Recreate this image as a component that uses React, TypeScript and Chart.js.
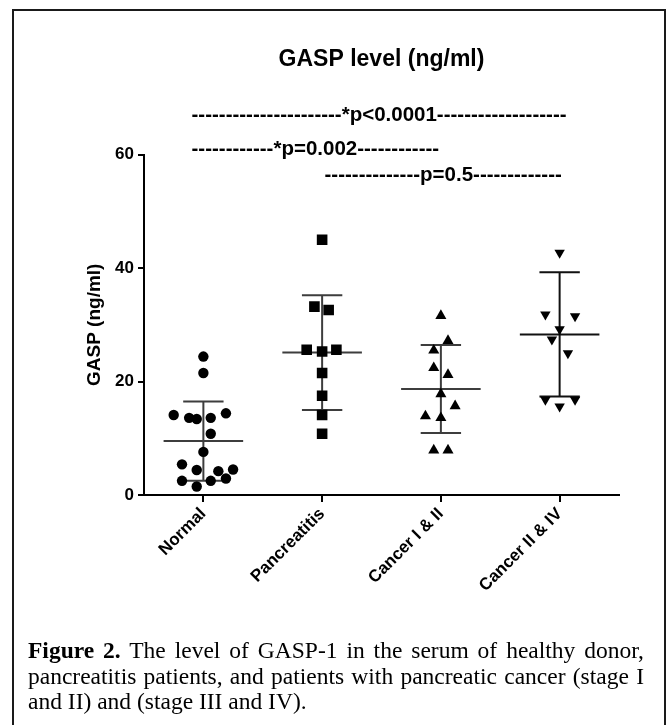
import React, { useEffect, useRef } from "react";
import { Chart, registerables } from "chart.js";

Chart.register(...registerables);

// ---- data ----
const categories = ["Normal", "Pancreatitis", "Cancer I & II", "Cancer II & IV"];

const normalValues = [24.4, 21.5, 14.1, 13.6, 13.4, 13.6, 14.4, 10.8, 7.6, 5.4, 4.4, 4.2, 4.5, 2.5, 2.5, 2.9, 1.5];
const normalJitter = [0, 0, -0.25, -0.12, -0.056, 0.062, 0.19, 0.062, 0, -0.18, -0.056, 0.126, 0.25, -0.18, 0.062, 0.19, -0.056];

const pancreatitisValues = [45.0, 33.2, 32.6, 25.6, 25.3, 25.6, 21.5, 17.5, 14.1, 10.8];
const pancreatitisJitter = [0, -0.065, 0.055, -0.13, 0, 0.12, 0, 0, 0, 0];

const cancer12Values = [31.6, 27.2, 25.5, 22.4, 21.2, 17.8, 15.7, 13.9, 13.6, 7.9, 7.9];
const cancer12Jitter = [0, 0.06, -0.06, -0.06, 0.06, 0, 0.12, -0.13, 0, -0.06, 0.06];

const cancer34Values = [42.7, 31.8, 31.5, 29.2, 27.4, 25.0, 16.8, 16.8, 15.6];
const cancer34Jitter = [0, -0.12, 0.13, 0, -0.065, 0.07, -0.12, 0.13, 0];

const groupMeans = [9.5, 25.1, 18.7, 28.3];
const groupSD = [7.0, 10.1, 7.75, 10.95];

const yTicks = [0, 20, 40, 60];

const pLabels = [
  "-".repeat(22) + "*p<0.0001" + "-".repeat(19),
  "-".repeat(12) + "*p=0.002" + "-".repeat(12),
  "-".repeat(14) + "p=0.5" + "-".repeat(13),
];
const pStartX = [-0.1, -0.1, 1.02];
const pY = [66.9, 61.0, 56.3];

const FONT = '"Liberation Sans", Arial, Helvetica, sans-serif';

function groupPoints(values: number[], jitter: number[], idx: number) {
  return values.map((v, i) => ({ x: idx + jitter[i], y: v }));
}

function errorBarData(idx: number) {
  const m = groupMeans[idx];
  const s = groupSD[idx];
  const gap = { x: idx, y: null as any };
  return [
    { x: idx - 0.335, y: m }, { x: idx + 0.335, y: m }, gap,
    { x: idx, y: m - s }, { x: idx, y: m + s }, gap,
    { x: idx - 0.17, y: m + s }, { x: idx + 0.17, y: m + s }, gap,
    { x: idx - 0.17, y: m - s }, { x: idx + 0.17, y: m - s },
  ];
}

const pLinesPlugin = {
  id: "pLines",
  afterDraw(chart: any) {
    const { ctx, scales } = chart;
    const x = scales.x;
    const y = scales.y;
    ctx.save();
    ctx.font = `bold 20.5px ${FONT}`;
    ctx.fillStyle = "#000";
    ctx.textAlign = "left";
    ctx.textBaseline = "middle";
    pLabels.forEach((t, i) => {
      ctx.fillText(t, x.getPixelForValue(pStartX[i]), y.getPixelForValue(pY[i]));
    });
    ctx.restore();
  },
};

function GaspChart() {
  const ref = useRef<HTMLCanvasElement | null>(null);
  useEffect(() => {
    if (!ref.current) return;
    const barColors = ["#3d3d3d", "#3d3d3d", "#3d3d3d", "#111111"];
    const chart = new Chart(ref.current, {
      type: "scatter",
      data: {
        datasets: [
          {
            label: categories[0],
            data: groupPoints(normalValues, normalJitter, 0),
            pointStyle: "circle",
            pointRadius: 5.2,
            backgroundColor: "#000",
            borderColor: "#000",
            borderWidth: 0,
          },
          {
            label: categories[1],
            data: groupPoints(pancreatitisValues, pancreatitisJitter, 1),
            pointStyle: "rect",
            pointRadius: 7.5,
            backgroundColor: "#000",
            borderColor: "#000",
            borderWidth: 0,
          },
          {
            label: categories[2],
            data: groupPoints(cancer12Values, cancer12Jitter, 2),
            pointStyle: "triangle",
            pointRadius: 6.4,
            backgroundColor: "#000",
            borderColor: "#000",
            borderWidth: 0,
          },
          {
            label: categories[3],
            data: groupPoints(cancer34Values, cancer34Jitter, 3),
            pointStyle: "triangle",
            rotation: 180,
            pointRadius: 6,
            backgroundColor: "#000",
            borderColor: "#000",
            borderWidth: 0,
          } as any,
          ...categories.map((c, i) => ({
            type: "line" as const,
            label: c + " mean ± SD",
            data: errorBarData(i),
            borderColor: barColors[i],
            borderWidth: 2,
            pointRadius: 0,
            spanGaps: false,
            fill: false,
          })),
        ] as any,
      },
      options: {
        animation: false,
        responsive: false,
        devicePixelRatio: 1,
        events: [],
        layout: { padding: { left: 0, right: 47, top: 0, bottom: 25 } },
        plugins: {
          legend: { display: false },
          tooltip: { enabled: false },
          title: {
            display: true,
            text: "GASP level (ng/ml)",
            fullSize: false,
            color: "#000",
            font: { family: FONT, size: 23, weight: "bold" },
            padding: { top: 46, bottom: 81 },
          },
        },
        scales: {
          x: {
            type: "linear",
            min: -0.5,
            max: 3.5,
            afterBuildTicks: (s: any) => {
              s.ticks = categories.map((_, i) => ({ value: i }));
            },
            afterFit: (s: any) => {
              s.height = 120;
            },
            ticks: {
              autoSkip: false,
              minRotation: 45,
              maxRotation: 45,
              padding: 2,
              color: "#000",
              font: { family: FONT, size: 17, weight: "bold" },
              callback: (v: any) => categories[v as number] ?? "",
            },
            grid: {
              display: true,
              drawOnChartArea: false,
              drawTicks: true,
              tickLength: 7,
              color: "#000",
              lineWidth: 2,
            },
            border: { display: true, color: "#000", width: 2 },
          },
          y: {
            type: "linear",
            min: 0,
            max: 60,
            afterBuildTicks: (s: any) => {
              s.ticks = yTicks.map((v) => ({ value: v }));
            },
            afterFit: (s: any) => {
              s.width = 144;
            },
            ticks: {
              padding: 4,
              color: "#000",
              font: { family: FONT, size: 17, weight: "bold" },
            },
            grid: {
              display: true,
              drawOnChartArea: false,
              drawTicks: true,
              tickLength: 6,
              color: "#000",
              lineWidth: 2,
            },
            border: { display: true, color: "#000", width: 2 },
            title: {
              display: true,
              text: "GASP (ng/ml)",
              color: "#000",
              font: { family: FONT, size: 19, weight: "bold" },
              padding: { top: 83, bottom: 0 },
            },
          },
        },
      } as any,
      plugins: [pLinesPlugin],
    });
    return () => chart.destroy();
  }, []);
  return (
    <canvas
      ref={ref}
      width={666}
      height={640}
      style={{ position: "absolute", left: 0, top: 0, width: 666, height: 640 }}
    />
  );
}

export default function App() {
  const serif = '"Liberation Serif", "Times New Roman", Times, serif';
  const justified: React.CSSProperties = {
    textAlign: "justify",
    textAlignLast: "justify",
    whiteSpace: "nowrap",
  };
  return (
    <div>
      <div
        style={{
          position: "absolute",
          left: 12,
          top: 9,
          width: 650,
          height: 716,
          border: "2px solid #1a1a1a",
          borderBottom: "none",
          background: "#fff",
          boxSizing: "content-box",
        }}
      />
      <GaspChart />
      <div
        style={{
          position: "absolute",
          left: 28,
          top: 638,
          width: 616,
          fontFamily: serif,
          fontSize: 23.5,
          lineHeight: "25.5px",
          color: "#000",
        }}
      >
        <div style={justified}>
          <b>Figure 2.</b> The level of GASP-1 in the serum of healthy donor,
        </div>
        <div style={justified}>
          pancreatitis patients, and patients with pancreatic cancer (stage I
        </div>
        <div style={{ whiteSpace: "nowrap" }}>and II) and (stage III and IV).</div>
      </div>
    </div>
  );
}
